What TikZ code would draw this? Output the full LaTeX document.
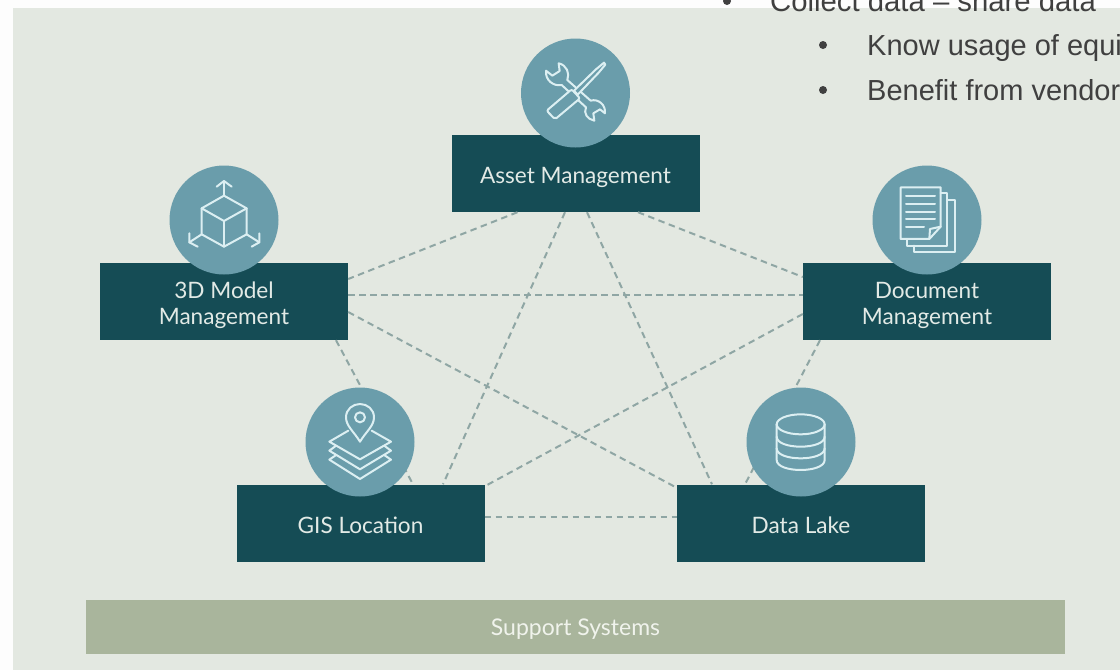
\documentclass[tikz,border=0pt]{standalone}
\usepackage{fontspec}
\setmainfont{Lato}
\newfontfamily\slidefont{Liberation Sans}
\definecolor{pagebg}{HTML}{FDFDFD}
\definecolor{panelbg}{HTML}{E3E8E1}
\definecolor{boxteal}{HTML}{154C55}
\definecolor{discteal}{HTML}{6A9DAB}
\definecolor{supportgreen}{HTML}{A9B59C}
\definecolor{dashgrey}{HTML}{8FA6A4}
\definecolor{iconline}{HTML}{DCEFF2}
\definecolor{boxtext}{HTML}{E2EAE6}
\definecolor{supporttext}{HTML}{F0F3EC}
\definecolor{slidetext}{HTML}{404040}
\tikzset{
  modulebox/.style={fill=boxteal,minimum width=248pt,minimum height=77pt,inner sep=0pt},
  modulelabel/.style={text=boxtext,inner sep=0pt,align=center,yshift=-4pt,font=\fontsize{22.6}{26}\selectfont},
  disc/.style={circle,fill=discteal,minimum size=109pt,inner sep=0pt},
  link/.style={draw=dashgrey,line width=2pt,dash pattern=on 6.5pt off 4.5pt},
  iconzoom/.style={shift={(#1)},x=0.3333pt,y=-0.3333pt,draw=iconline,line width=2pt,line join=round,line cap=round},
  slideline/.style={anchor=base west,inner sep=0pt,text=slidetext,font=\slidefont\fontsize{29}{34}\selectfont},
  slidebullet/.style={fill=slidetext}
}
\begin{document}
\begin{tikzpicture}[x=1pt,y=-1pt]
\useasboundingbox (0,0) rectangle (1120,670);
\clip (0,0) rectangle (1120,670);
\fill[pagebg] (0,0) rectangle (1120,670);
\fill[panelbg] (13,8) rectangle (1120,670);
% boxes
\node[modulebox] (asset) at (575.5,173.5) {};
\node[modulebox] (model) at (224,301.5) {};
\node[modulebox] (doc) at (927,301.5) {};
\node[modulebox] (gis) at (360.5,523) {};
\node[modulebox] (lake) at (801,523) {};
\node[fill=supportgreen,minimum width=979pt,minimum height=54pt,inner sep=0pt] (support) at (575.5,627) {};
\node[modulelabel] (assetlabel) at (asset) {Asset Management};
\node[modulelabel] (modellabel) at (model) {3D Model\\Management};
\node[modulelabel] (doclabel) at (doc) {Document\\Management};
\node[modulelabel,yshift=1.5pt] (gislabel) at (gis) {GIS Location};
\node[modulelabel,yshift=1.5pt] (lakelabel) at (lake) {Data Lake};
\node[modulelabel,yshift=2pt,text=supporttext,font=\fontsize{23}{26}\selectfont] (supportlabel) at (support) {Support Systems};
% connectors
\draw[link] ([xshift=-58pt]asset.south) -- ([yshift=22.5pt]model.east);
\draw[link] ([xshift=62.5pt]asset.south) -- ([yshift=24.5pt]doc.west);
\draw[link] ([xshift=-10.5pt]asset.south) -- ([xshift=82.5pt]gis.north);
\draw[link] ([xshift=11.5pt]asset.south) -- ([xshift=-89pt]lake.north);
\draw[link] ([yshift=6.5pt]model.east) -- ([yshift=6.5pt]doc.west);
\draw[link] ([yshift=-10.5pt]model.east) -- ([yshift=-3.5pt]lake.north west);
\draw[link] ([xshift=112pt]model.south) -- ([xshift=52.5pt]gis.north);
\draw[link] ([yshift=-12.5pt]doc.west) -- ([yshift=-2pt]gis.north east);
\draw[link] ([xshift=-107pt]doc.south) -- ([xshift=-56pt]lake.north);
\draw[link] ([yshift=6pt]gis.east) -- ([yshift=6pt]lake.west);
% discs
\node[disc] (assetdisc) at (575.5,93) {};
\node[disc] (modeldisc) at (224,220) {};
\node[disc] (docdisc) at (927,220) {};
\node[disc] (gisdisc) at (360,442) {};
\node[disc] (lakedisc) at (801,442) {};
% wrench and screwdriver
\begin{scope}[iconzoom={500,30}]
\draw (176,100) -- (179,123) -- (157,137) -- (138,122)
  .. controls (135,150) and (160,170) .. (185,165) -- (258,232)
  .. controls (250,250) and (262,268) .. (283,272) -- (280,250) -- (300,238) -- (315,250)
  .. controls (318,225) and (295,205) .. (272,212) -- (202,150)
  .. controls (210,130) and (200,105) .. (176,100) -- cycle;
\draw[fill=discteal,rounded corners=2pt] (140,242) -- (215,178) -- (240,205) -- (165,268) -- cycle;
\draw[fill=discteal] (222,182) -- (288,118) -- (312,98) -- (316,104) -- (296,128) -- (233,194) -- cycle;
\end{scope}
% cube
\begin{scope}[iconzoom={150,155}]
\draw (222,122) -- (155,160) -- (222,198) -- (290,160) -- cycle;
\draw (155,160) -- (155,238) -- (222,275) -- (290,238) -- (290,160);
\draw (222,198) -- (222,275);
\draw (222,122) -- (222,80);
\draw (200,95) -- (222,78) -- (245,95);
\draw (155,238) -- (118,262);
\draw (118,235) -- (118,262) -- (143,275);
\draw (290,238) -- (328,262);
\draw (328,235) -- (328,262) -- (305,275);
\end{scope}
% documents
\begin{scope}[iconzoom={850,155}]
\draw (152,97) -- (272,97) -- (272,215) -- (238,252) -- (152,252) -- cycle;
\draw (272,215) -- (240,222) -- (238,252);
\foreach \ly in {124,147,170,193} \draw (168,\ly) -- (255,\ly);
\draw (168,215) -- (222,215);
\draw (272,115) -- (292,115) -- (292,272) -- (172,272) -- (172,252);
\draw (292,135) -- (314,135) -- (314,292) -- (192,292) -- (192,272);
\end{scope}
% map pin and layers
\begin{scope}[iconzoom={290,380}]
\draw (210,185) .. controls (192,155) and (168,138) .. (168,112)
  .. controls (168,88) and (188,72) .. (210,72)
  .. controls (232,72) and (252,88) .. (252,112)
  .. controls (252,138) and (228,155) .. (210,185) -- cycle;
\draw (210,112) circle[radius=15];
\draw (175,152) -- (118,185) -- (210,238) -- (303,185) -- (245,152);
\draw (137,198) -- (118,212) -- (210,268) -- (303,212) -- (284,198);
\draw (137,226) -- (118,239) -- (210,297) -- (303,239) -- (284,226);
\end{scope}
% database
\begin{scope}[iconzoom={730,380}]
\draw (212,133) circle[x radius=72,y radius=30];
\draw (140,133) -- (140,240) .. controls (140,280) and (284,280) .. (284,240) -- (284,133);
\draw (140,170) .. controls (140,210) and (284,210) .. (284,170);
\draw (140,205) .. controls (140,245) and (284,245) .. (284,205);
\end{scope}
% overlaid slide text
\fill[slidebullet] (727,1) circle[radius=4];
\node[slideline,font=\slidefont\fontsize{29.3}{34}\selectfont] (line1) at (770,11) {Collect data – share data};
\fill[slidebullet] (823,45) circle[radius=4];
\node[slideline] (line2) at (867,55) {Know usage of equi};
\fill[slidebullet] (823,90) circle[radius=4];
\node[slideline] (line3) at (867,100) {Benefit from vendor};
\end{tikzpicture}
\end{document}
